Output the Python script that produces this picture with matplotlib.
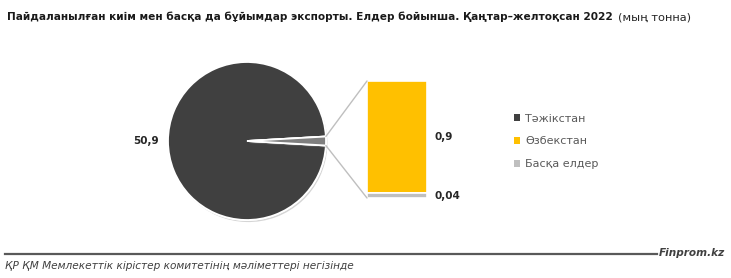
import matplotlib
matplotlib.use("Agg")
import matplotlib.pyplot as plt
from matplotlib.patches import ConnectionPatch, Patch
import matplotlib.patheffects as pe
import numpy as np

# ---- data ----
title_bold = "Пайдаланылған киім мен басқа да бұйымдар экспорты. Елдер бойынша. Қаңтар–желтоқсан 2022"
title_unit = "(мың тонна)"
countries = ["Тәжікстан", "Өзбекстан", "Басқа елдер"]
values = [50.9, 0.9, 0.04]
value_labels = ["50,9", "0,9", "0,04"]
colors = ["#404040", "#FFC000", "#BFBFBF"]
other_color = "#7F7F7F"
source = "ҚР ҚМ Мемлекеттік кірістер комитетінің мәліметтері негізінде"
brand = "Finprom.kz"

W, H = 731, 278
fig = plt.figure(figsize=(W / 100, H / 100), dpi=100)
fig.patch.set_facecolor("white")

def fx(px):
    return px / W

def fy(py):
    return 1 - py / H

FONT = ["Liberation Sans Narrow", "DejaVu Sans"]

# ---- pie ----
pie_vals = [values[0], sum(values[1:])]
frac_other = pie_vals[1] / sum(pie_vals)
half = 180 * frac_other
axp = fig.add_axes([fx(168), fy(220), fx(158), 158 / H])
wedges, _ = axp.pie(pie_vals, colors=[colors[0], other_color], startangle=half,
                    counterclock=True,
                    wedgeprops=dict(edgecolor="white", linewidth=1.3))
for w in wedges:
    w.set_path_effects([pe.withSimplePatchShadow(offset=(1, -1.5), shadow_rgbFace="#888888", alpha=0.35), pe.Normal()])
axp.set_xlim(-1, 1)
axp.set_ylim(-1, 1)
axp.set_aspect("equal")
axp.axis("off")
axp.text(-1.11, 0, value_labels[0], ha="right", va="center", fontsize=7.5,
         fontweight="bold", color="#262626", family="DejaVu Sans")

# ---- bar ----
axb = fig.add_axes([fx(367), fy(198), fx(60), 117 / H])
bar_vals = [values[1], values[2]]
bar_cols = [colors[1], colors[2]]
bar_bottom = [values[2], 0]
for v, c, b in zip(bar_vals, bar_cols, bar_bottom):
    bb = axb.bar([0], [v], bottom=b, width=1.0, color=c, edgecolor="white", linewidth=1.2)
    for rr in bb:
        rr.set_path_effects([pe.withSimplePatchShadow(offset=(1.5, -1.5), shadow_rgbFace="#888888", alpha=0.35), pe.Normal()])
axb.set_xlim(-0.5, 0.5)
axb.set_ylim(0, sum(bar_vals))
axb.axis("off")
for v, b, lab in zip(bar_vals, bar_bottom, value_labels[1:]):
    axb.text(0.63, b + v / 2, lab, ha="left", va="center", fontsize=7.5,
             fontweight="bold", color="#262626", family="DejaVu Sans", clip_on=False)

# ---- connector lines ----
ang = np.deg2rad(half)
for sgn, yb in [(1, sum(bar_vals)), (-1, 0)]:
    con = ConnectionPatch(xyA=(np.cos(ang), sgn * np.sin(ang)), coordsA=axp.transData,
                          xyB=(-0.5, yb), coordsB=axb.transData,
                          color="#BFBFBF", linewidth=1)
    fig.add_artist(con)

# ---- legend ----
handles = [Patch(facecolor=c, edgecolor="none") for c in colors]
leg = fig.legend(handles, countries, loc="upper left", bbox_to_anchor=(fx(508), fy(108)),
                 frameon=False, fontsize=8, handlelength=0.55, handleheight=0.55,
                 handletextpad=0.5, labelspacing=1.15, borderpad=0)
for t in leg.get_texts():
    t.set_color("#595959")

fig.canvas.draw()
r = fig.canvas.get_renderer()

def fit(txt, width_px):
    fs = txt.get_fontsize()
    b = txt.get_window_extent(r)
    txt.set_fontsize(fs * width_px / b.width)

# ---- title ----
t1 = fig.text(fx(7), fy(17), title_bold, ha="left", va="center", fontsize=10,
              fontweight="bold", color="#1a1a1a", family=FONT)
fig.canvas.draw()
fit(t1, 613 - 7)
fig.canvas.draw()
b1 = t1.get_window_extent(r)
t2 = fig.text((b1.x1 + 5) / W, fy(17), title_unit, ha="left", va="center",
              fontsize=t1.get_fontsize() * 1.08, color="#262626", family=FONT)

# ---- footer ----
fig.add_artist(plt.Line2D([fx(5), fx(657)], [fy(253.5), fy(253.5)], color="#595959", linewidth=1.6))
tb = fig.text(fx(725), fy(253), brand, ha="right", va="center", fontsize=9, fontweight="bold",
              fontstyle="italic", color="#404040", family=FONT)
ts = fig.text(fx(5), fy(266), source, ha="left", va="center", fontsize=8,
              fontstyle="italic", color="#404040", family=FONT)
fig.canvas.draw()
fit(ts, 355 - 5)
fit(tb, 725 - 659)

fig.savefig("out.png", dpi=100, facecolor="white")
